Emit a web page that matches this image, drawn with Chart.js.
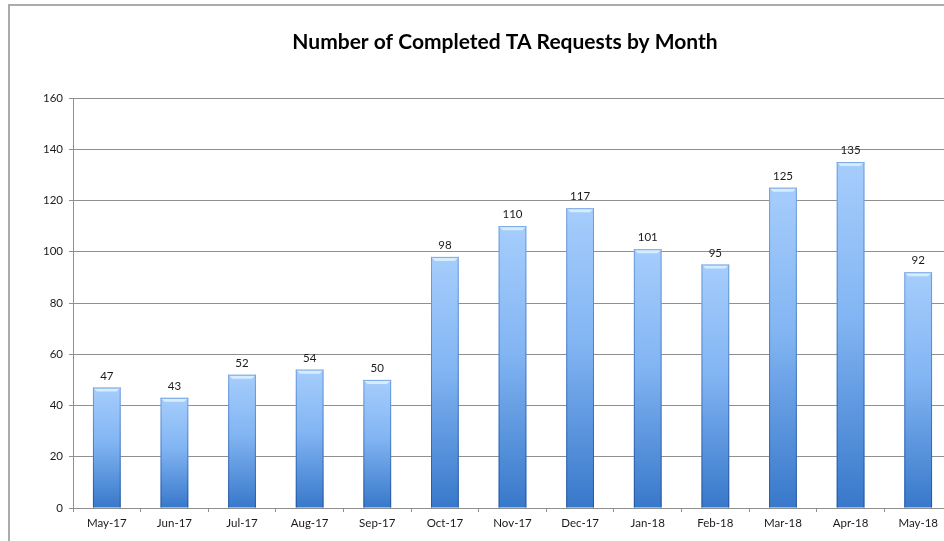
<!DOCTYPE html>
<html>
<head>
<meta charset="utf-8">
<script src="https://cdn.jsdelivr.net/npm/chart.js@4/dist/chart.umd.min.js"></script>
<style>
  html, body { margin: 0; padding: 0; background: #fff; overflow: hidden; width: 944px; height: 541px; }
  #frame { position: absolute; left: 8px; top: 4px; width: 1100px; height: 700px; border: 2px solid #ababab; box-sizing: border-box; }
  #wrap { position: absolute; left: 0; top: 0; width: 1010px; height: 546px; }
</style>
</head>
<body>
<div id="frame"></div>
<div id="wrap"><canvas id="c" width="1010" height="546"></canvas></div>
<script>
const chartTitle = 'Number of Completed TA Requests by Month';
const months = ['May-17','Jun-17','Jul-17','Aug-17','Sep-17','Oct-17','Nov-17','Dec-17','Jan-18','Feb-18','Mar-18','Apr-18','May-18'];
const completedRequests = [47, 43, 52, 54, 50, 98, 110, 117, 101, 95, 125, 135, 92];
const yTicks = [0, 20, 40, 60, 80, 100, 120, 140, 160];

const FONT = 'Lato, "Open Sans", sans-serif';

function barGradient(context) {
  const chart = context.chart;
  if (!chart.chartArea) return '#80b3f1';
  const ys = chart.scales.y;
  const top = ys.getPixelForValue(context.raw);
  const base = ys.getPixelForValue(0);
  const g = chart.ctx.createLinearGradient(0, top, 0, base);
  g.addColorStop(0, '#a6cdfc');
  g.addColorStop(0.45, '#82b5f3');
  g.addColorStop(1, '#3878ca');
  return g;
}

const bevelPlugin = {
  id: 'bevel',
  afterDatasetsDraw(chart) {
    const ctx = chart.ctx;
    const meta = chart.getDatasetMeta(0);
    ctx.save();
    meta.data.forEach(el => {
      const l = el.x - el.width / 2, r = el.x + el.width / 2, t = el.y, b = el.base;
      const eg = ctx.createLinearGradient(0, t, 0, b);
      eg.addColorStop(0, 'rgba(90,140,210,0.7)');
      eg.addColorStop(1, 'rgba(30,80,150,0.85)');
      ctx.strokeStyle = eg;
      ctx.lineWidth = 1;
      ctx.beginPath();
      ctx.moveTo(l + 0.5, t); ctx.lineTo(l + 0.5, b);
      ctx.moveTo(r - 0.5, t); ctx.lineTo(r - 0.5, b);
      ctx.stroke();
      ctx.fillStyle = '#d6ecff';
      ctx.beginPath();
      ctx.moveTo(l, t); ctx.lineTo(r, t); ctx.lineTo(r - 4, t + 4); ctx.lineTo(l + 4, t + 4); ctx.closePath();
      ctx.fill();
      ctx.strokeStyle = 'rgba(110,160,225,0.9)';
      ctx.beginPath(); ctx.moveTo(l, t + 0.5); ctx.lineTo(r, t + 0.5); ctx.stroke();
    });
    ctx.restore();
  }
};

const valueLabels = {
  id: 'valueLabels',
  afterDatasetsDraw(chart) {
    const ctx = chart.ctx;
    const meta = chart.getDatasetMeta(0);
    ctx.save();
    ctx.font = '11.5px ' + FONT;
    ctx.fillStyle = '#1a1a1a';
    ctx.textAlign = 'center';
    ctx.textBaseline = 'bottom';
    meta.data.forEach((el, i) => {
      ctx.fillText(String(completedRequests[i]), el.x, el.y - 6);
    });
    ctx.restore();
  }
};

const titleText = {
  id: 'titleText',
  afterDraw(chart) {
    const ctx = chart.ctx;
    ctx.save();
    ctx.font = 'bold 21px ' + FONT;
    ctx.fillStyle = '#000';
    ctx.textAlign = 'center';
    ctx.textBaseline = 'middle';
    ctx.fillText(chartTitle, 505, 42);
    ctx.restore();
  }
};

new Chart(document.getElementById('c'), {
  type: 'bar',
  data: {
    labels: months,
    datasets: [{
      data: completedRequests,
      backgroundColor: barGradient,
      borderWidth: 0,
      barPercentage: 0.41,
      categoryPercentage: 1.0
    }]
  },
  options: {
    responsive: false,
    animation: false,
    devicePixelRatio: 1,
    layout: { padding: { left: 0, right: 58, top: 98, bottom: 0 } },
    plugins: {
      legend: { display: false },
      tooltip: { enabled: false },
      title: { display: false }
    },
    scales: {
      x: {
        grid: { display: true, drawOnChartArea: false, drawTicks: true, tickLength: 4, color: '#8f8f8f', offset: true },
        border: { display: true, color: '#8f8f8f', width: 1 },
        ticks: { color: '#1a1a1a', font: { family: FONT, size: 11.5 }, padding: 4, maxRotation: 0, autoSkip: false },
        afterFit(s) { s.height = 38; }
      },
      y: {
        min: 0, max: 160,
        afterBuildTicks(s) { s.ticks = yTicks.map(v => ({ value: v })); },
        grid: { color: '#8f8f8f', lineWidth: 1, drawTicks: true, tickLength: 4 },
        border: { display: true, color: '#8f8f8f', width: 1 },
        ticks: { color: '#1a1a1a', font: { family: FONT, size: 11.5 }, padding: 6 },
        afterFit(s) { s.width = 73; }
      }
    }
  },
  plugins: [bevelPlugin, valueLabels, titleText]
});
</script>
</body>
</html>
